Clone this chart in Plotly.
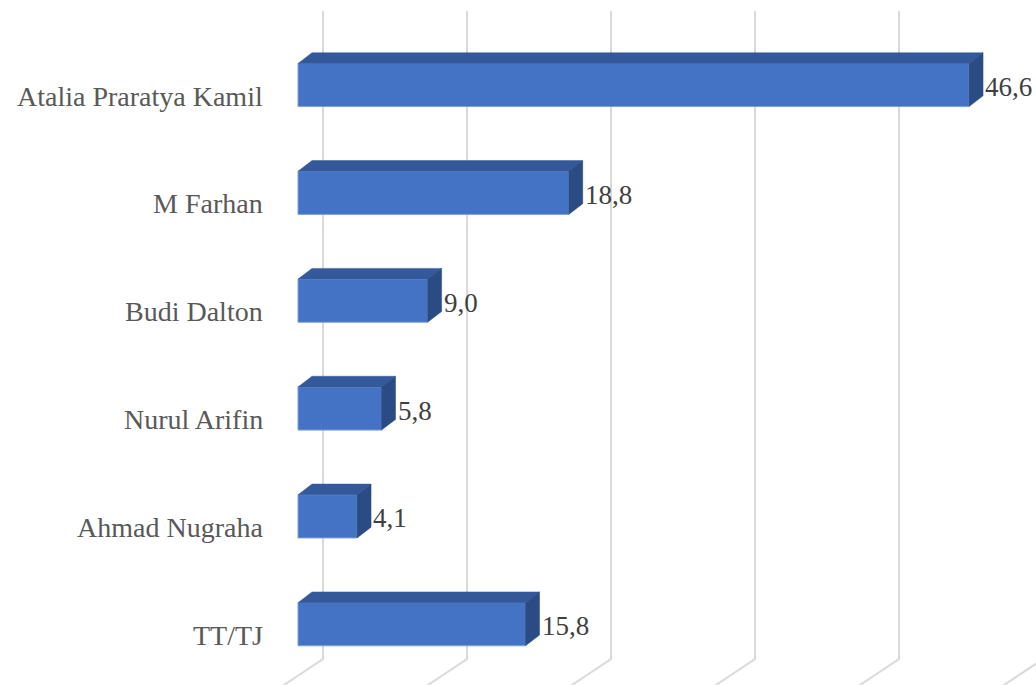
import plotly.graph_objects as go

# ---- data ----
categories = ["Atalia Praratya Kamil", "M Farhan", "Budi Dalton", "Nurul Arifin", "Ahmad Nugraha", "TT/TJ"]
values = [46.6, 18.8, 9.0, 5.8, 4.1, 15.8]
value_labels = ["46,6", "18,8", "9,0", "5,8", "4,1", "15,8"]
grid_values = [0, 10, 20, 30, 40, 50]

# ---- geometry (in axis units) ----
PX_PER_UNIT_X = 14.4
PX_PER_ROW = 107.84
bar_h = 0.40
dx = 14 / PX_PER_UNIT_X          # depth offset along value axis
dy = -10.7 / PX_PER_ROW          # depth offset along category axis (upward)
wall_dx = 25 / PX_PER_UNIT_X     # back wall offset
grid_top = -0.686
grid_floor = 5.323
grid_front = 5.75
slope = 39 / 26 / PX_PER_UNIT_X * PX_PER_ROW  # x-units per row-unit on floor

FRONT = "#4472C4"
TOP = "#34599A"
SIDE = "#2A4B84"
GRID = "#D9D9D9"
FONT = "Liberation Serif"

ypos = list(range(len(categories)))

fig = go.Figure()

# gridlines: back wall verticals plus floor slants (behind the bars)
for g in grid_values:
    xb = g + wall_dx
    xf = xb - slope * (grid_front - grid_floor)
    fig.add_shape(type="path", xref="x", yref="y", layer="below",
                  path=f"M {xb},{grid_top} L {xb},{grid_floor} L {xf},{grid_front}",
                  line=dict(color=GRID, width=2))

# top and side faces
for k, v in zip(ypos, values):
    t = k - bar_h / 2
    b = k + bar_h / 2
    fig.add_trace(go.Scatter(
        x=[0, v, v + dx, dx, 0], y=[t, t, t + dy, t + dy, t],
        fill="toself", fillcolor=TOP, mode="lines",
        line=dict(color=TOP, width=0.5), hoverinfo="skip", showlegend=False))
    fig.add_trace(go.Scatter(
        x=[v, v + dx, v + dx, v, v], y=[t, t + dy, b + dy, b, t],
        fill="toself", fillcolor=SIDE, mode="lines",
        line=dict(color=SIDE, width=0.5), hoverinfo="skip", showlegend=False))

# front faces
fig.add_trace(go.Bar(
    x=values, y=ypos, orientation="h", width=bar_h, base=0,
    marker=dict(color=FRONT, line=dict(color="#7F9FD6", width=1)),
    hoverinfo="skip", showlegend=False))

# value labels
for k, v, lab in zip(ypos, values, value_labels):
    fig.add_annotation(x=v + dx, y=k, text=lab, xref="x", yref="y",
                       xanchor="left", yanchor="middle", showarrow=False,
                       xshift=1, yshift=-2, borderpad=0,
                       font=dict(family=FONT, size=27, color="#404040"))

# category labels
for k, c in zip(ypos, categories):
    fig.add_annotation(x=0, y=k, text=c, xref="x", yref="y",
                       xanchor="right", yanchor="middle", showarrow=False,
                       xshift=-33, yshift=-11,
                       font=dict(family=FONT, size=28, color="#595959"))

W, H = 1036, 685
zero_px = 298
row0_px = 85
x0 = -zero_px / PX_PER_UNIT_X
x1 = (W - zero_px) / PX_PER_UNIT_X
y_top = -row0_px / PX_PER_ROW
y_bot = (H - row0_px) / PX_PER_ROW

fig.update_layout(
    width=W, height=H,
    margin=dict(l=0, r=0, t=0, b=0),
    paper_bgcolor="white", plot_bgcolor="white",
    xaxis=dict(range=[x0, x1], visible=False, fixedrange=True),
    yaxis=dict(range=[y_bot, y_top], visible=False, fixedrange=True),
    bargap=0,
    hovermode=False,
)

fig.write_html("out.html",
               config={"displayModeBar": False, "staticPlot": True},
               post_script="document.body.style.margin='0';document.body.style.overflow='hidden';")
